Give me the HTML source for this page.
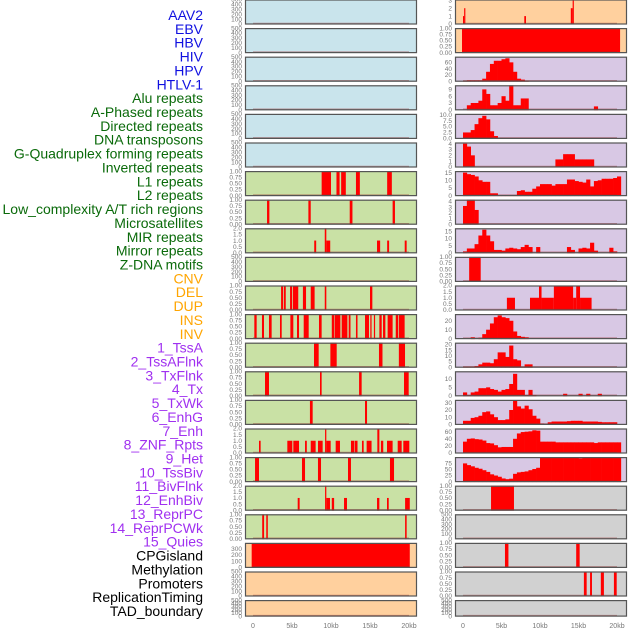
<!DOCTYPE html>
<html><head><meta charset="utf-8">
<style>
html,body{margin:0;padding:0;background:#fff;width:630px;height:630px;overflow:hidden}
svg{display:block}
</style></head>
<body>
<svg id="chart" width="630" height="630" viewBox="0 0 630 630" xmlns="http://www.w3.org/2000/svg" font-family="Liberation Sans, sans-serif"></svg>
<script>
// ---- labels ----
const trackLabels = ["AAV2","EBV","HBV","HIV","HPV","HTLV-1","Alu repeats","A-Phased repeats","Directed repeats","DNA transposons","G-Quadruplex forming repeats","Inverted repeats","L1 repeats","L2 repeats","Low_complexity A/T rich regions","Microsatellites","MIR repeats","Mirror repeats","Z-DNA motifs","CNV","DEL","DUP","INS","INV","1_TssA","2_TssAFlnk","3_TxFlnk","4_Tx","5_TxWk","6_EnhG","7_Enh","8_ZNF_Rpts","9_Het","10_TssBiv","11_BivFlnk","12_EnhBiv","13_ReprPC","14_ReprPCWk","15_Quies","CPGisland","Methylation","Promoters","ReplicationTiming","TAD_boundary"];
const labelColors = ["#1010e0","#1010e0","#1010e0","#1010e0","#1010e0","#1010e0","#0a6a0a","#0a6a0a","#0a6a0a","#0a6a0a","#0a6a0a","#0a6a0a","#0a6a0a","#0a6a0a","#0a6a0a","#0a6a0a","#0a6a0a","#0a6a0a","#0a6a0a","#ffa500","#ffa500","#ffa500","#ffa500","#ffa500","#a030f0","#a030f0","#a030f0","#a030f0","#a030f0","#a030f0","#a030f0","#a030f0","#a030f0","#a030f0","#a030f0","#a030f0","#a030f0","#a030f0","#a030f0","#000","#000","#000","#000","#000"];
const xTickLabels = ["0","5kb","10kb","15kb","20kb"];
const xTickValues = [0,5,10,15,20];
// ---- tick label sets ----
const T500 = ["0","100","200","300","400","500"];
const T1 = ["0.00","0.25","0.50","0.75","1.00"];
const T2 = ["0.0","0.5","1.0","1.5","2.0"];
// ---- left column segments [startKb, endKb, value] ----
const L7 = [[8.8,10.0,1],[10.7,11.1,1],[11.3,11.9,1],[13.2,13.7,1],[17.2,17.8,1]];
const L8 = [[1.8,2.1,1],[7.1,7.4,1],[12.4,12.75,1],[17.9,18.2,1]];
const L9 = [[7.85,8.1,1],[9.2,9.4,2],[9.4,9.9,1],[15.9,16.3,1],[17.2,17.45,1],[19.45,19.7,1]];
const L11 = [[3.6,3.85,1],[3.95,4.2,1],[4.75,5.0,1],[5.1,5.8,1],[6.4,6.8,1],[7.4,7.9,1],[9.2,9.4,1],[15.0,15.3,1]];
const L12 = [[0.17,0.47,1],[1.15,1.41,1],[2.05,2.39,1],[3.46,3.68,1],[4.79,5.17,1],[5.64,5.9,1],[6.5,7.14,1],[8.46,8.8,1],[10.1,10.4,1],[10.47,11.2,1],[11.37,12.1,1],[12.27,12.5,1],[13.2,13.4,1],[14.36,14.87,1],[15.04,15.2,1],[15.5,15.64,1],[16.2,16.5,1],[16.67,16.97,1],[17.26,17.9,1],[18.3,18.59,1],[18.68,19.44,1]];
const L13 = [[7.82,8.42,1],[9.92,10.73,1],[16.15,16.6,1],[18.7,19.49,1]];
const L14 = [[1.54,2.05,1],[8.59,8.8,1],[13.6,13.93,1],[19.36,19.96,1]];
const L15 = [[7.3,7.65,1],[14.36,14.62,1]];
const L16 = [[0.77,0.98,1],[4.4,5.04,1],[5.17,5.9,1],[6.67,6.9,1],[7.4,8.03,1],[8.33,8.93,1],[9.24,9.4,2],[9.4,9.96,1],[10.6,11.15,1],[12.56,13.0,1],[13.07,13.4,1],[13.97,14.19,1],[14.57,15.2,1],[15.94,16.2,2],[16.4,16.7,1],[17.18,17.9,1],[18.55,19.06,1],[19.27,20.04,1]];
const L17 = [[0.26,0.77,1],[6.28,6.67,1],[8.33,8.72,1],[12.18,12.56,1],[17.56,18.08,1]];
const L18 = [[5.73,5.98,1],[9.24,9.4,2],[9.4,9.87,1],[10.1,10.4,1],[11.67,12.05,1],[15.9,16.2,1],[17.18,17.4,1],[19.5,20.1,1]];
const L19 = [[1.18,1.42,1],[1.7,1.9,1],[19.5,19.7,1]];
const L20 = [[-0.17,20.1,390]];
// ---- right column ----
const R1 = [[0.0,0.15,1],[0.15,0.3,2],[7.96,8.18,1],[14.0,14.24,2],[14.24,14.37,3]];
const R2 = [[-0.13,20.4,1]];
// binned values, 0.5kb per bin starting at 0kb
const R3 = [1,3,3,3,3,8,30,55,65,65,70,73,60,30,8,5,1];
const R4 = [0,2,3,3,4,9,7,2,2,3,6,4,11,2,2,5,5,0,0,0,0,0,0,0,0,0,0,0,0,0,0,0,0,0,1.5];
const R5 = [2.5,2.5,3.5,6,8.5,9.5,8,3,1];
const R6 = [4,3.5,2,0,0,0,0,0,0,0,0,0,0,0,0,0,0,0,0,0,0,0,0,0,1.3,1.3,2.2,2.2,2.2,1.3,1.3,1.3,1.3,1.3];
const R7 = [15,14,13.5,12.5,10,9,9,1.5,1.5,0.3,0.3,0.3,0.3,0.3,3,3.5,2.5,2.5,4.5,6,7.5,7.5,7.5,6.5,7.5,7.5,7.5,10.5,10.5,9.5,9,8.5,10.5,6,9.5,10,11,11,11,11.5,12.5];
const R8 = [3.2,4.3,4.3,2.5];
const R9 = [1,3,3,6,12,16,12,8,2,2,1.5,3,3.5,3,2.5,4,5.5,4,0,4,0,0,0,0,0,0,0,4,2,0,3,3.5,3,7,1.5,0,0,0,3.5,1];
const R10 = [[0.8,2.3,1]];
const R11 = [[5.7,6.75,1],[8.7,9.87,1],[9.87,10.2,2],[10.2,11.8,1],[11.8,14.3,2],[14.3,14.7,1],[14.7,15.2,2],[15.2,16.7,1]];
const R12 = [0,0,1.5,0,1,5,10,17,24,26,24,23,20,8,3,2,1.5];
const R13 = [0.5,0.5,0.5,1,2.5,4,4,3.5,7,13,13,9,19,7,6,0.5,2.5,2.5];
const R14 = [2,0.5,2,2.5,4.5,4.5,5,4,3.5,2.5,3.5,4,7,13,3.5,3.5,0.5,3.5,0.5,0,0,0,0,0,0,0,1.2,0,0,0,1.2,0,1.2,0,0,1.2];
const R15 = [5,5,9,10,12,17,18,14,10,6,6,7,20,33,25,22,26,21,12,8,1,0.5,3,4,4,4,4,4.5,5,5,5,4,4,4,4,3.5,3,3,3,3];
const R16 = [32,40,41,39,38,35,28,27,22,16,17,17,17,40,55,59,60,61,64,63,32,32,32,32,30,30,30,30,30,30,30,30,30,30,28,30,30,30,30,30,30];
const R17 = [75,68,63,57,53,47,40,30,25,20,13,10,12,32,38,40,42,47,52,57,100,100,100,100,100,100,100,100,100,100,96,100,100,100,100,100,100,100,100,100,100];
const R18 = [[3.64,6.62,1]];
const R20 = [[5.45,5.9,1],[14.7,15.15,1]];
const R21 = [[15.7,16.06,1],[16.5,16.75,1],[17.9,18.3,1],[19.6,19.96,1]];

const BG = {blue:"#c9e4ec",green:"#c9e1a5",orange:"#ffd09e",purple:"#d8c8e4",gray:"#d1d1d1"};
const tracks = [
 {side:"L",row:0,bg:"blue",ymax:500,ticks:T500,segs:[]},
 {side:"L",row:1,bg:"blue",ymax:500,ticks:T500,segs:[]},
 {side:"L",row:2,bg:"blue",ymax:500,ticks:T500,segs:[]},
 {side:"L",row:3,bg:"blue",ymax:500,ticks:T500,segs:[]},
 {side:"L",row:4,bg:"blue",ymax:500,ticks:T500,segs:[]},
 {side:"L",row:5,bg:"blue",ymax:500,ticks:T500,segs:[]},
 {side:"L",row:6,bg:"green",ymax:1,ticks:T1,segs:L7},
 {side:"L",row:7,bg:"green",ymax:1,ticks:T1,segs:L8},
 {side:"L",row:8,bg:"green",ymax:2,ticks:T2,segs:L9},
 {side:"L",row:9,bg:"green",ymax:500,ticks:T500,segs:[]},
 {side:"L",row:10,bg:"green",ymax:1,ticks:T1,segs:L11},
 {side:"L",row:11,bg:"green",ymax:1,ticks:T1,segs:L12},
 {side:"L",row:12,bg:"green",ymax:1,ticks:T1,segs:L13},
 {side:"L",row:13,bg:"green",ymax:1,ticks:T1,segs:L14},
 {side:"L",row:14,bg:"green",ymax:1,ticks:T1,segs:L15},
 {side:"L",row:15,bg:"green",ymax:2,ticks:T2,segs:L16},
 {side:"L",row:16,bg:"green",ymax:1,ticks:T1,segs:L17},
 {side:"L",row:17,bg:"green",ymax:2,ticks:T2,segs:L18},
 {side:"L",row:18,bg:"green",ymax:1,ticks:T1,segs:L19},
 {side:"L",row:19,bg:"orange",ymax:395,ticks:["0","100","200","300"],segs:L20},
 {side:"L",row:20,bg:"orange",ymax:500,ticks:T500,segs:[]},
 {side:"L",row:21,bg:"orange",ymax:500,ticks:T500,segs:[]},
 {side:"R",row:0,bg:"orange",ymax:3.1,ticks:["0","1","2","3"],segs:R1},
 {side:"R",row:1,bg:"orange",ymax:1,ticks:T1,segs:R2},
 {side:"R",row:2,bg:"purple",ymax:78,ticks:["0","20","40","60"],bins:R3},
 {side:"R",row:3,bg:"purple",ymax:10.8,ticks:["0","3","6","9"],bins:R4},
 {side:"R",row:4,bg:"purple",ymax:10.3,ticks:["0.0","2.5","5.0","7.5","10.0"],bins:R5},
 {side:"R",row:5,bg:"purple",ymax:4.2,ticks:["0","1","2","3","4"],bins:R6},
 {side:"R",row:6,bg:"purple",ymax:16,ticks:["0","5","10","15"],bins:R7},
 {side:"R",row:7,bg:"purple",ymax:4.3,ticks:["0","1","2","3","4"],bins:R8},
 {side:"R",row:8,bg:"purple",ymax:17,ticks:["0","5","10","15"],bins:R9},
 {side:"R",row:9,bg:"purple",ymax:1,ticks:T1,segs:R10},
 {side:"R",row:10,bg:"purple",ymax:2,ticks:T2,segs:R11},
 {side:"R",row:11,bg:"purple",ymax:27.5,ticks:["0","10","20"],bins:R12},
 {side:"R",row:12,bg:"purple",ymax:21.5,ticks:["0","5","10","15","20"],bins:R13},
 {side:"R",row:13,bg:"purple",ymax:14.5,ticks:["0","5","10"],bins:R14},
 {side:"R",row:14,bg:"purple",ymax:34,ticks:["0","10","20","30"],bins:R15},
 {side:"R",row:15,bg:"purple",ymax:69,ticks:["0","20","40","60"],bins:R16},
 {side:"R",row:16,bg:"purple",ymax:101,ticks:["0","25","50","75"],bins:R17},
 {side:"R",row:17,bg:"gray",ymax:1,ticks:T1,segs:R18},
 {side:"R",row:18,bg:"gray",ymax:500,ticks:T500,segs:[]},
 {side:"R",row:19,bg:"gray",ymax:1,ticks:T1,segs:R20},
 {side:"R",row:20,bg:"gray",ymax:1,ticks:T1,segs:R21},
 {side:"R",row:21,bg:"gray",ymax:500,ticks:T500,segs:[]}
];

const svg = document.getElementById("chart");
const NS = "http://www.w3.org/2000/svg";
function mk(tag, attrs, parent){
  const e = document.createElementNS(NS, tag);
  for (const k in attrs) e.setAttribute(k, attrs[k]);
  (parent||svg).appendChild(e);
  return e;
}
const PANEL = {L:{x0:245,x1:417,z:253,k:7.8}, R:{x0:455,x1:627,z:463,k:7.7}};
function xScale(side, kb){ return PANEL[side].z + kb*PANEL[side].k; }
function rowTop(r){ return -0.5 + 28.6*r; }
function rowH(r){ return r===21 ? 16.5 : 25; }

// labels
trackLabels.forEach((t,i)=>{
  const el = mk("text",{x:203,y:15+13.86*i+5,"text-anchor":"end","font-size":"14",fill:labelColors[i]});
  
  
  el.textContent = t;
});

tracks.forEach(tr=>{
  const P = PANEL[tr.side];
  const top = rowTop(tr.row), h = rowH(tr.row), bot = top + h;
  const g = mk("g",{});
  
  
  const bg = mk("rect",{x:P.x0,y:top,width:P.x1-P.x0,height:h,fill:BG[tr.bg]},g);
  
  
  const yS = v => bot - 0.5 - (v/tr.ymax)*(h-0.5);
  const clip = v => Math.max(top, yS(v));
  if (tr.segs){
    tr.segs.forEach(s=>{
      const xa = xScale(tr.side,s[0]), xb = xScale(tr.side,s[1]);
      const r = mk("rect",{x:xa,y:clip(s[2]),width:Math.max(1.2,xb-xa),height:bot-clip(s[2]),fill:"#ff0000"},g);
      
      
    });
  }
  if (tr.bins){
    tr.bins.forEach((v,i)=>{
      if (!v) return;
      const xa = xScale(tr.side,i*0.5), xb = xScale(tr.side,(i+1)*0.5);
      const r = mk("rect",{x:xa,y:clip(v),width:xb-xa+0.3,height:bot-clip(v),fill:"#ff0000"},g);
      
      
    });
  }
  // baseline
  const bl = mk("line",{x1:xScale(tr.side,0),x2:xScale(tr.side,20),y1:bot-1,y2:bot-1,stroke:"rgba(150,40,40,0.45)","stroke-width":"1.5"},g);
  
  
  // frame
  const fr = mk("rect",{x:P.x0+0.5,y:top+0.5,width:P.x1-P.x0-1,height:h-1,fill:"none",stroke:"#555","stroke-width":"1.2"},g);
  
  
  // y ticks
  tr.ticks.forEach(t=>{
    const v = parseFloat(t);
    const ty = yS(v);
    const te = mk("text",{x:P.x0-3,y:ty+2.2,"text-anchor":"end","font-size":"6.5",fill:"#777"},g);
    
    
    te.textContent = t;
  });
});

// x axis ticks
["L","R"].forEach(side=>{
  xTickValues.forEach((v,i)=>{
    const te = mk("text",{x:xScale(side,v),y:628,"text-anchor":"middle","font-size":"7",fill:"#777"});
    
    
    te.textContent = xTickLabels[i];
  });
});
</script>
</body></html>
